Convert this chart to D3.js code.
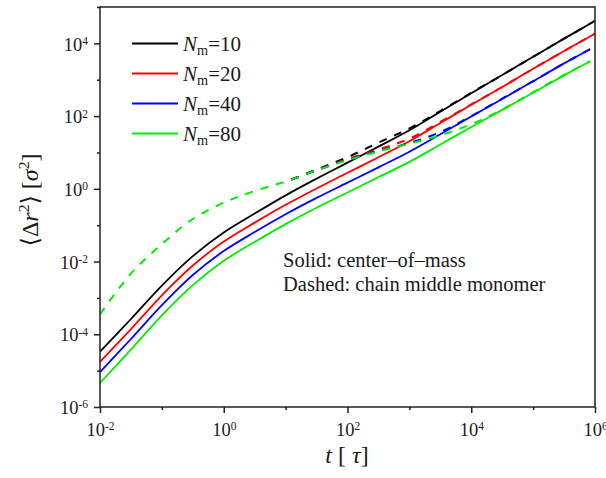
<!DOCTYPE html>
<html>
<head>
<meta charset="utf-8">
<script src="https://cdn.jsdelivr.net/npm/d3@7"></script>
<style>
  body { margin: 0; background: #fff; }
  text { font-family: "Liberation Serif", "Times New Roman", "DejaVu Serif", serif; fill: #1a1a1a; }
</style>
</head>
<body>
<div id="chart"></div>
<script>
// time grid, log10(t / tau)
const logT = [-2, -1.5, -1, -0.5, 0, 0.5, 1, 1.5, 2, 2.5, 3, 3.5, 4, 4.5, 5, 5.5, 5.92, 6];

// log10 <dr^2>
// solid = center-of-mass
const cmN10 = [-4.48, -3.58, -2.66, -1.85, -1.20, -0.68, -0.18, 0.28, 0.72, 1.16, 1.61, 2.12, 2.63, 3.13, 3.63, 4.13, 4.54, 4.62];
const cmN20 = [-4.76, -3.86, -2.93, -2.11, -1.45, -0.93, -0.44, 0.01, 0.44, 0.87, 1.31, 1.81, 2.31, 2.80, 3.30, 3.79, 4.19, 4.27];
const cmN40 = [-5.04, -4.13, -3.20, -2.37, -1.71, -1.19, -0.70, -0.25, 0.17, 0.59, 1.02, 1.50, 1.99, 2.47, 2.96, 3.45, 3.84, null];
const cmN80 = [-5.34, -4.42, -3.48, -2.65, -1.98, -1.46, -0.97, -0.52, -0.10, 0.32, 0.74, 1.22, 1.70, 2.17, 2.64, 3.12, 3.51, null];
// dashed = chain middle monomer (all four coincide at short times)
const midN10 = [-3.45, -2.33, -1.52, -0.83, -0.38, -0.06, 0.20, 0.53, 0.87, 1.27, 1.66, 2.14, 2.64, 3.13, 3.63, 4.13, 4.54, 4.62];
const midN20 = [-3.45, -2.33, -1.52, -0.83, -0.38, -0.06, 0.20, 0.51, 0.82, 1.08, 1.38, 1.84, 2.32, 2.80, 3.30, 3.79, 4.19, 4.27];
const midN40 = [-3.45, -2.33, -1.52, -0.83, -0.38, -0.06, 0.20, 0.51, 0.80, 1.04, 1.26, 1.56, 2.00, 2.48, 2.96, 3.45, 3.84, null];
const midN80 = [-3.45, -2.33, -1.52, -0.83, -0.38, -0.06, 0.20, 0.51, 0.79, 1.03, 1.24, 1.47, 1.78, 2.18, 2.66, 3.13, 3.51, null];

const chainLengths = [10, 20, 40, 80];
const colors = ["#000000", "#ff0000", "#0000ff", "#00ee00"];
const xTickExp = [-2, -1, 0, 1, 2, 3, 4, 5, 6];
const yTickExp = [-6, -5, -4, -3, -2, -1, 0, 1, 2, 3, 4, 5];

const solids = [cmN10, cmN20, cmN40, cmN80];
const dashes = [midN10, midN20, midN40, midN80];

let width = 606, height = 478;
let margin = {left: 100, right: 11, top: 7, bottom: 71};

var svg = d3.select("#chart").append("svg")
    .attr("width", width)
    .attr("height", height);

var x = d3.scaleLog().domain([1e-2, 1e6]).range([margin.left, width - margin.right]);
var y = d3.scaleLog().domain([1e-6, 1e5]).range([height - margin.bottom, margin.top]);

function toPoints(vals) {
  return logT.map((lt, i) => ({t: Math.pow(10, lt), v: vals[i] == null ? null : Math.pow(10, vals[i])}))
             .filter(d => d.v != null);
}

var line = d3.line()
    .x(d => x(d.t))
    .y(d => y(d.v))
    .curve(d3.curveCatmullRom.alpha(0.5));

// superscript tick labels: 10^n
function powLabel(sel) {
  sel.each(function(d) {
    const e = Math.round(Math.log10(d));
    const t = d3.select(this);
    t.text(null);
    t.append("tspan").text("10");
    t.append("tspan").attr("dy", "-0.5em").attr("font-size", "0.62em").text(e);
  });
}

// x axis
var major = v => v % 2 === 0;
var xAxisMajor = d3.axisBottom(x).tickValues(xTickExp.filter(major).map(e => Math.pow(10, e))).tickSize(6).tickFormat(() => "");
var xAxisMinor = d3.axisBottom(x).tickValues(xTickExp.filter(e => !major(e)).map(e => Math.pow(10, e))).tickSize(3).tickFormat(() => "");

var gx = svg.append("g").attr("transform", `translate(0,${height - margin.bottom})`).call(xAxisMajor);
gx.select(".domain").remove();
gx.selectAll(".tick text")
    .attr("y", 16).attr("dy", "0.71em")
    .attr("font-size", "18.5px")
    .call(powLabel);
var gx2 = svg.append("g").attr("transform", `translate(0,${height - margin.bottom})`).call(xAxisMinor);
gx2.select(".domain").remove();

// y axis
var yAxisMajor = d3.axisLeft(y).tickValues(yTickExp.filter(major).map(e => Math.pow(10, e))).tickSize(6).tickFormat(() => "");
var yAxisMinor = d3.axisLeft(y).tickValues(yTickExp.filter(e => !major(e)).map(e => Math.pow(10, e))).tickSize(3).tickFormat(() => "");

var gy = svg.append("g").attr("transform", `translate(${margin.left},0)`).call(yAxisMajor);
gy.select(".domain").remove();
gy.selectAll(".tick text")
    .attr("x", -12).attr("dy", "0.36em")
    .attr("font-size", "18.5px")
    .call(powLabel);
var gy2 = svg.append("g").attr("transform", `translate(${margin.left},0)`).call(yAxisMinor);
gy2.select(".domain").remove();

svg.selectAll(".tick line").attr("stroke", "#222").attr("stroke-width", 1.5);

// the N=10..40 dashed curves sit under N=80 at short times; only show them past t=10
svg.append("clipPath").attr("id", "late")
  .append("rect")
    .attr("x", x(10)).attr("y", 0)
    .attr("width", width - x(10)).attr("height", height);

var plot = svg.append("g");
solids.forEach((s, i) => {
  plot.append("path")
      .datum(toPoints(s))
      .attr("d", line)
      .attr("fill", "none")
      .attr("stroke", colors[i])
      .attr("stroke-width", 1.8);
});
dashes.forEach((s, i) => {
  plot.append("path")
      .datum(toPoints(s))
      .attr("d", line)
      .attr("fill", "none")
      .attr("clip-path", i < 3 ? "url(#late)" : null)
      .attr("stroke", colors[i])
      .attr("stroke-width", 2)
      .attr("stroke-dasharray", "8,8");
});

// frame
svg.append("rect")
    .attr("x", margin.left).attr("y", margin.top)
    .attr("width", width - margin.left - margin.right)
    .attr("height", height - margin.top - margin.bottom)
    .attr("fill", "none")
    .attr("stroke", "#222")
    .attr("stroke-width", 1.5);

// legend
var lg = svg.append("g");
chainLengths.forEach((n, i) => {
  const ly = 43.5 + i * 30;
  lg.append("line")
      .attr("x1", 132).attr("x2", 178)
      .attr("y1", ly).attr("y2", ly)
      .attr("stroke", colors[i]).attr("stroke-width", 2);
  const t = lg.append("text").attr("x", 183).attr("y", ly + 7).attr("font-size", "21px");
  t.append("tspan").attr("font-style", "italic").text("N");
  t.append("tspan").attr("font-size", "0.68em").attr("dy", "0.3em").text("m");
  t.append("tspan").attr("dy", "-0.2em").text("=" + n);
});

// annotation
svg.append("text").attr("x", 283).attr("y", 267).attr("font-size", "20.5px").text("Solid: center\u2013of\u2013mass");
svg.append("text").attr("x", 283).attr("y", 291).attr("font-size", "20.5px").text("Dashed: chain middle monomer");

// x title
var xt = svg.append("text").attr("x", 347).attr("y", 463).attr("text-anchor", "middle").attr("font-size", "24px");
xt.append("tspan").attr("font-style", "italic").text("t");
xt.append("tspan").text(" [ ");
xt.append("tspan").attr("font-style", "italic").text("\u03C4");
xt.append("tspan").text("]");

// y title
var yt = svg.append("text")
    .attr("transform", "translate(38,200) rotate(-90)")
    .attr("text-anchor", "middle")
    .attr("font-size", "24px");
yt.append("tspan").text("\u27E8\u0394");
yt.append("tspan").attr("font-style", "italic").text("r");
yt.append("tspan").attr("font-size", "0.65em").attr("dy", "-0.55em").text("2");
yt.append("tspan").attr("dy", "0.36em").text("\u27E9 [");
yt.append("tspan").attr("font-style", "italic").text("\u03C3");
yt.append("tspan").attr("font-size", "0.65em").attr("dy", "-0.55em").text("2");
yt.append("tspan").attr("dy", "0.36em").text("]");
</script>
</body>
</html>
